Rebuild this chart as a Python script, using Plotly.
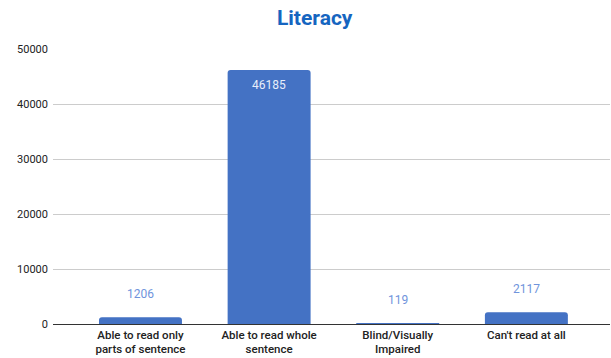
import plotly.graph_objects as go

categories = ["Able to read only<br>parts of sentence", "Able to read whole<br>sentence",
              "Blind/Visually<br>Impaired", "Can't read at all"]
values = [1206, 46185, 119, 2117]
y_ticks = [0, 10000, 20000, 30000, 40000, 50000]

bar_color = "#4472C4"

fig = go.Figure()
fig.add_trace(go.Bar(x=categories, y=values, marker=dict(color=bar_color, line=dict(width=0)),
                     width=0.645))

annotations = []
for c, v in zip(categories, values):
    if v > 20000:
        annotations.append(dict(x=c, y=v, text=str(v), showarrow=False, yanchor="top", yshift=-6,
                                font=dict(family="Roboto", size=12, color="#e8eefa")))
    else:
        annotations.append(dict(x=c, y=v, text=str(v), showarrow=False, yanchor="bottom", yshift=14,
                                font=dict(family="Roboto", size=12, color="#7094dc")))

fig.update_layout(
    width=611, height=358,
    margin=dict(l=53, r=1, t=49, b=34),
    paper_bgcolor="white", plot_bgcolor="white",
    title=dict(text="<b>Literacy</b>", x=0.515, xanchor="center", y=0.95, yanchor="middle",
               font=dict(family="Roboto", size=21, color="#1565c0")),
    font=dict(family="Roboto", size=11, color="#222"),
    barcornerradius=3,
    showlegend=False,
    annotations=annotations,
    xaxis=dict(range=[-0.68, 3.65], showgrid=False, showline=False, ticks="",
               tickfont=dict(family="Roboto", size=11.5, color="#222", weight=500),
               ticklabelstandoff=2, automargin=False, fixedrange=True),
    yaxis=dict(range=[0, 50000], tickvals=y_ticks, tickformat="d", showgrid=True,
               gridcolor="#cccccc", gridwidth=1, zeroline=True, zerolinecolor="#333333",
               zerolinewidth=1, tickfont=dict(family="Roboto", size=11, color="#222"),
               ticks="", ticklabelstandoff=4, automargin=False, fixedrange=True),
)

fig.write_html("out.html")
